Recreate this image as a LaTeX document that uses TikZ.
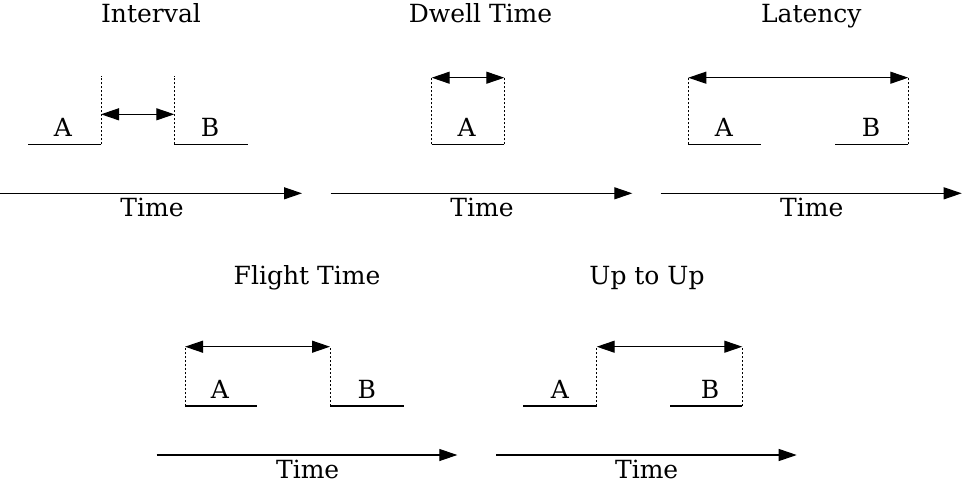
\documentclass[tikz,border=0pt]{standalone}
\usepackage{fontspec}
\setmainfont{DejaVu Serif}
\usetikzlibrary{arrows.meta}
\tikzset{
  lbl/.style={anchor=base, inner sep=0pt, font=\fontsize{25}{29}\selectfont},
  solidln/.style={line width=1.1pt},
  dashln/.style={line width=0.9pt, dash pattern=on 2pt off 2pt},
  timearrow/.style={line width=1.1pt, -{Triangle[length=18pt,width=12pt]}},
  dblarrow/.style={line width=1.1pt, {Triangle[length=18pt,width=12pt]}-{Triangle[length=18pt,width=12pt]}}
}
\begin{document}
\begin{tikzpicture}[x=1pt,y=-1pt]
\useasboundingbox (0,0) rectangle (966,491);
% ---------- Panel 1: Interval ----------
\node[lbl] (t1) at (151,22.7) {Interval};
\coordinate (p1a0) at (28,144.3);
\coordinate (p1a1) at (101,144.3);
\coordinate (p1d1) at (101,76);
\coordinate (p1b0) at (174.3,144.3);
\coordinate (p1b1) at (247.7,144.3);
\coordinate (p1d2) at (174.3,76);
\coordinate (p1h0) at (101,114.3);
\coordinate (p1h1) at (174.3,114.3);
\node[lbl] (p1A) at (63,136.7) {A};
\node[lbl] (p1B) at (210,136.7) {B};
\draw[solidln] (p1a0) -- (p1a1);
\draw[solidln] (p1b0) -- (p1b1);
\draw[dashln] (p1a1) -- (p1d1);
\draw[dashln] (p1b0) -- (p1d2);
\draw[dblarrow] (p1h0) -- (p1h1);
\coordinate (ta1s) at (0,193.3);
\coordinate (ta1e) at (302,193.3);
\draw[timearrow] (ta1s) -- (ta1e);
\node[lbl] (tl1) at (152,216.7) {Time};
% ---------- Panel 2: Dwell Time ----------
\node[lbl] (t2) at (480.5,22.7) {Dwell Time};
\coordinate (p2a0) at (431.7,144.3);
\coordinate (p2a1) at (504.3,144.3);
\coordinate (p2h0) at (431.7,77.7);
\coordinate (p2h1) at (504.3,77.7);
\node[lbl] (p2A) at (466.7,136.7) {A};
\draw[solidln] (p2a0) -- (p2a1);
\draw[dashln] (p2a0) -- (p2h0);
\draw[dashln] (p2a1) -- (p2h1);
\draw[dblarrow] (p2h0) -- (p2h1);
\coordinate (ta2s) at (330.7,193.3);
\coordinate (ta2e) at (632.3,193.3);
\draw[timearrow] (ta2s) -- (ta2e);
\node[lbl] (tl2) at (482,216.7) {Time};
% ---------- Panel 3: Latency ----------
\node[lbl] (t3) at (811.3,22.7) {Latency};
\coordinate (p3a0) at (688.3,144.3);
\coordinate (p3a1) at (761,144.3);
\coordinate (p3b0) at (835,144.3);
\coordinate (p3b1) at (908.3,144.3);
\coordinate (p3h0) at (688.3,77.7);
\coordinate (p3h1) at (908.3,77.7);
\node[lbl] (p3A) at (724,136.7) {A};
\node[lbl] (p3B) at (871,136.7) {B};
\draw[solidln] (p3a0) -- (p3a1);
\draw[solidln] (p3b0) -- (p3b1);
\draw[dashln] (p3a0) -- (p3h0);
\draw[dashln] (p3b1) -- (p3h1);
\draw[dblarrow] (p3h0) -- (p3h1);
\coordinate (ta3s) at (660.7,193.3);
\coordinate (ta3e) at (961.7,193.3);
\draw[timearrow] (ta3s) -- (ta3e);
\node[lbl] (tl3) at (811.7,216.7) {Time};
% ---------- Panel 4: Flight Time ----------
\node[lbl] (t4) at (307,284.4) {Flight Time};
\coordinate (p4a0) at (185,406);
\coordinate (p4a1) at (256.7,406);
\coordinate (p4b0) at (330,406);
\coordinate (p4b1) at (404,406);
\coordinate (p4h0) at (185,346.7);
\coordinate (p4h1) at (330,346.7);
\node[lbl] (p4A) at (220,398.4) {A};
\node[lbl] (p4B) at (366.7,398.4) {B};
\draw[solidln] (p4a0) -- (p4a1);
\draw[solidln] (p4b0) -- (p4b1);
\draw[dashln] (p4a0) -- (p4h0);
\draw[dashln] (p4b0) -- (p4h1);
\draw[dblarrow] (p4h0) -- (p4h1);
\coordinate (ta4s) at (156.7,455);
\coordinate (ta4e) at (457.3,455);
\draw[timearrow] (ta4s) -- (ta4e);
\node[lbl] (tl4) at (307.7,478.4) {Time};
% ---------- Panel 5: Up to Up ----------
\node[lbl] (t5) at (647,284.4) {Up to Up};
\coordinate (p5a0) at (523.3,406);
\coordinate (p5a1) at (596.7,406);
\coordinate (p5b0) at (670,406);
\coordinate (p5b1) at (742.3,406);
\coordinate (p5h0) at (596.7,346.7);
\coordinate (p5h1) at (742.3,346.7);
\node[lbl] (p5A) at (560,398.4) {A};
\node[lbl] (p5B) at (710,398.4) {B};
\draw[solidln] (p5a0) -- (p5a1);
\draw[solidln] (p5b0) -- (p5b1);
\draw[dashln] (p5a1) -- (p5h0);
\draw[dashln] (p5b1) -- (p5h1);
\draw[dblarrow] (p5h0) -- (p5h1);
\coordinate (ta5s) at (496,455);
\coordinate (ta5e) at (796.7,455);
\draw[timearrow] (ta5s) -- (ta5e);
\node[lbl] (tl5) at (646.7,478.4) {Time};
\end{tikzpicture}
\end{document}
